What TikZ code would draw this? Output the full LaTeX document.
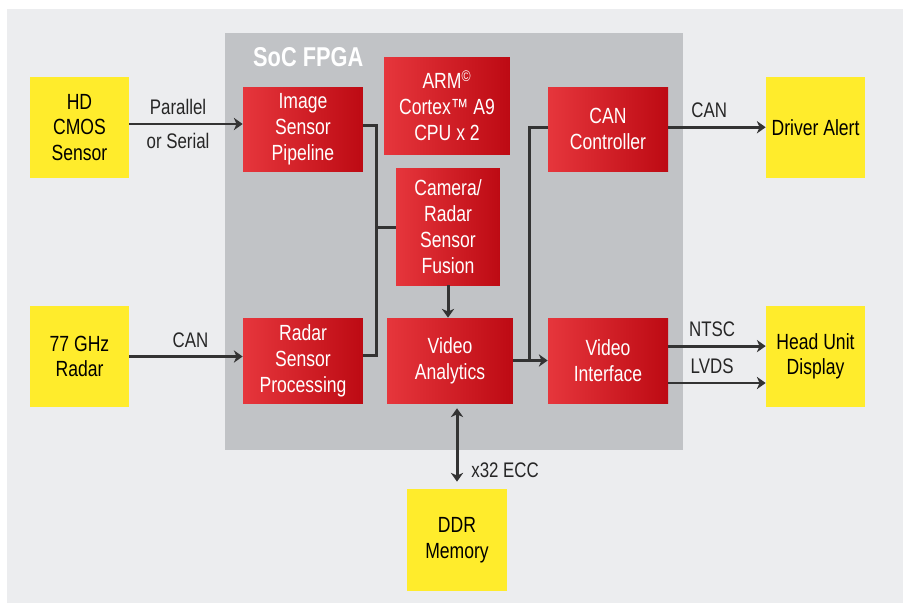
\documentclass[tikz,border=0pt]{standalone}
\usepackage{fontspec}
\setmainfont{Liberation Sans}[FakeStretch=0.8]
\usetikzlibrary{arrows.meta}
\definecolor{bggray}{HTML}{ECEDEF}
\definecolor{socgray}{HTML}{C1C3C6}
\definecolor{redl}{HTML}{E6363C}
\definecolor{redr}{HTML}{BD0A13}
\definecolor{ylw}{HTML}{FFEC2C}
\definecolor{wire}{HTML}{333333}

\begin{document}
\begin{tikzpicture}[x=0.02cm,y=-0.02cm,
  blk/.style={left color=redl,right color=redr,text=white,align=center,inner sep=0pt,font=\fontsize{12.5}{14.7}\selectfont},
  ext/.style={fill=ylw,align=center,inner sep=0pt,minimum width=1.98cm,minimum height=2.02cm,font=\fontsize{12.5}{14.5}\selectfont},
  lbl/.style={font=\fontsize{12}{14}\selectfont,text=black!85},
  ln/.style={wire,line width=1.7pt},
  arr/.style={ln,-{Stealth[length=5pt,width=7pt,inset=1.5pt]}}]
\useasboundingbox (0,0) rectangle (905,603);
\fill[bggray] (7,9) rectangle (903,603);
% SoC FPGA area
\fill[socgray] (225,33) rectangle (683,450);
\node[anchor=west,text=white,font=\fontsize{15.5}{18}\selectfont\bfseries] (soc) at (247,57) {SoC FPGA};
% blocks inside the FPGA
\node[blk,minimum width=2.4cm,minimum height=1.68cm] (isp) at (303,129) {Image\\Sensor\\Pipeline};
\node[blk,minimum width=2.52cm,minimum height=1.94cm] (arm) at (447,105.5) {ARM\textsuperscript{\textcopyright}\\Cortex\texttrademark{} A9\\CPU x 2};
\node[blk,minimum width=2.08cm,minimum height=2.34cm] (fusion) at (448,226.5) {Camera/\\Radar\\Sensor\\Fusion};
\node[blk,minimum width=2.4cm,minimum height=1.68cm] (canctl) at (608,129) {CAN\\Controller};
\node[blk,minimum width=2.4cm,minimum height=1.7cm] (rsp) at (303,360.5) {Radar\\Sensor\\Processing};
\node[blk,minimum width=2.52cm,minimum height=1.7cm] (va) at (450,360.5) {Video\\Analytics};
\node[blk,minimum width=2.4cm,minimum height=1.7cm] (vi) at (608,360.5) {Video\\Interface};
% external parts
\node[ext] (cmos) at (79.5,127.5) {HD\\CMOS\\Sensor};
\node[ext] (radar) at (79.5,356.5) {77 GHz\\Radar};
\node[ext] (alert) at (815.5,127.5) {Driver Alert};
\node[ext] (hud) at (815.5,356.5) {Head Unit\\Display};
\node[ext,minimum width=2cm,minimum height=2.04cm] (ddr) at (457,540) {DDR\\Memory};
% sensor inputs
\draw[arr] ([yshift=2pt]cmos.east) -- ([yshift=2pt]cmos.east -| isp.west)
  node[lbl,pos=0.43,above=1pt] {Parallel} node[lbl,pos=0.43,below=1pt] {or Serial};
\draw[arr] (radar.east) -- (radar.east -| rsp.west) node[lbl,pos=0.54,above=1pt] {CAN};
% fusion bus
\coordinate (bus) at (376,227);
\draw[ln] ([yshift=2pt]isp.east) -| (bus) |- ([yshift=3pt]rsp.east);
\draw[ln] (bus) -- (bus -| fusion.west);
\draw[arr] (fusion.south) -- (fusion.south |- va.north);
% video path
\coordinate (tap) at (529,360.5);
\draw[arr] (va.east) -- (vi.west);
\draw[ln] (tap) |- ([yshift=1pt]canctl.west);
\draw[arr] ([yshift=1pt]canctl.east) -- ([yshift=1pt]canctl.east -| alert.west) node[lbl,pos=0.42,above=1pt] {CAN};
\draw[arr] ([yshift=8.2pt]vi.east) -- ([yshift=8.2pt]vi.east -| hud.west) node[lbl,pos=0.45,above=1pt] {NTSC};
\draw[arr] ([yshift=-12.8pt]vi.east) -- ([yshift=-12.8pt]vi.east -| hud.west) node[lbl,pos=0.45,above=1pt] {LVDS};
% memory
\draw[ln,{Stealth[length=5pt,width=7pt,inset=1.5pt]}-{Stealth[length=5pt,width=7pt,inset=1.5pt]},shorten <=4pt,shorten >=2.8pt]
  (ddr.north) -- (ddr.north |- va.south) node[lbl,pos=0.22,right=4pt] {x32 ECC};
\end{tikzpicture}
\end{document}
